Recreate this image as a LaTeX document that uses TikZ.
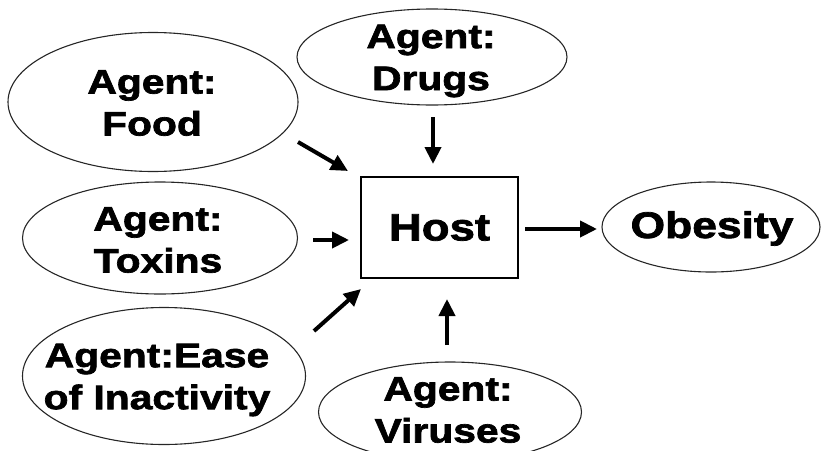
\documentclass[tikz,border=0pt]{standalone}
\usepackage{fontspec}
\setmainfont{Liberation Sans}[FakeStretch=1.2,BoldFeatures={FakeBold=2}]
\usetikzlibrary{shapes.geometric,arrows.meta}
\begin{document}
\begin{tikzpicture}[x=1pt,y=-1pt,
  oval/.style={ellipse,draw=black!85,line width=1.1pt,inner sep=0pt},
  agenttext/.style={align=center,inner sep=0pt,font=\fontsize{34}{42}\selectfont\bfseries},
  bigtext/.style={inner sep=0pt,font=\fontsize{37}{44}\selectfont\bfseries},
  hostbox/.style={rectangle,draw=black,line width=1.8pt,inner sep=0pt,font=\fontsize{38}{44}\selectfont\bfseries},
  arr/.style={line width=4pt,-{Triangle[length=17pt,width=16pt]}}]
\useasboundingbox (0,0) rectangle (821,450);
% ellipses
\node[oval,minimum width=290pt,minimum height=139pt] (food) at (153,102) {};
\node[oval,minimum width=270pt,minimum height=96pt] (drugs) at (432,57) {};
\node[oval,minimum width=275pt,minimum height=112pt] (toxins) at (160,238) {};
\node[oval,minimum width=283pt,minimum height=137pt] (ease) at (164,376) {};
\node[oval,minimum width=263pt,minimum height=100pt] (viruses) at (450,412) {};
\node[oval,minimum width=218pt,minimum height=90pt] (obesity) at (711,227) {};
% texts
\node[agenttext] (foodtxt) at (152,103) {Agent:\\Food};
\node[agenttext] (drugstxt) at (431,61) {Agent:\\Drugs};
\node[agenttext] (toxinstxt) at (158,240) {Agent:\\Toxins};
\node[agenttext] (easetxt) at (157,380) {Agent:Ease\\of Inactivity};
\node[agenttext] (virusestxt) at (448,410) {Agent:\\Viruses};
\node[bigtext,anchor=base] (obesitytxt) at (712,238) {Obesity};
% host
\node[hostbox,minimum width=157pt,minimum height=101pt] (host) at (439.5,227.5) {Host};
% arrow ends
\coordinate (fa) at (298,142); \coordinate (fb) at (348,171);
\coordinate (da) at (433,117); \coordinate (db) at (433,164);
\coordinate (ta) at (313,240); \coordinate (tb) at (349,240);
\coordinate (ea) at (314,331); \coordinate (eb) at (361,289);
\coordinate (va) at (447,345); \coordinate (vb) at (447,299);
\coordinate (oa) at (525,229); \coordinate (ob) at (597,229);
\draw[arr] (fa) -- (fb);
\draw[arr] (da) -- (db);
\draw[arr] (ta) -- (tb);
\draw[arr] (ea) -- (eb);
\draw[arr] (va) -- (vb);
\draw[arr] (oa) -- (ob);
\end{tikzpicture}
\end{document}
